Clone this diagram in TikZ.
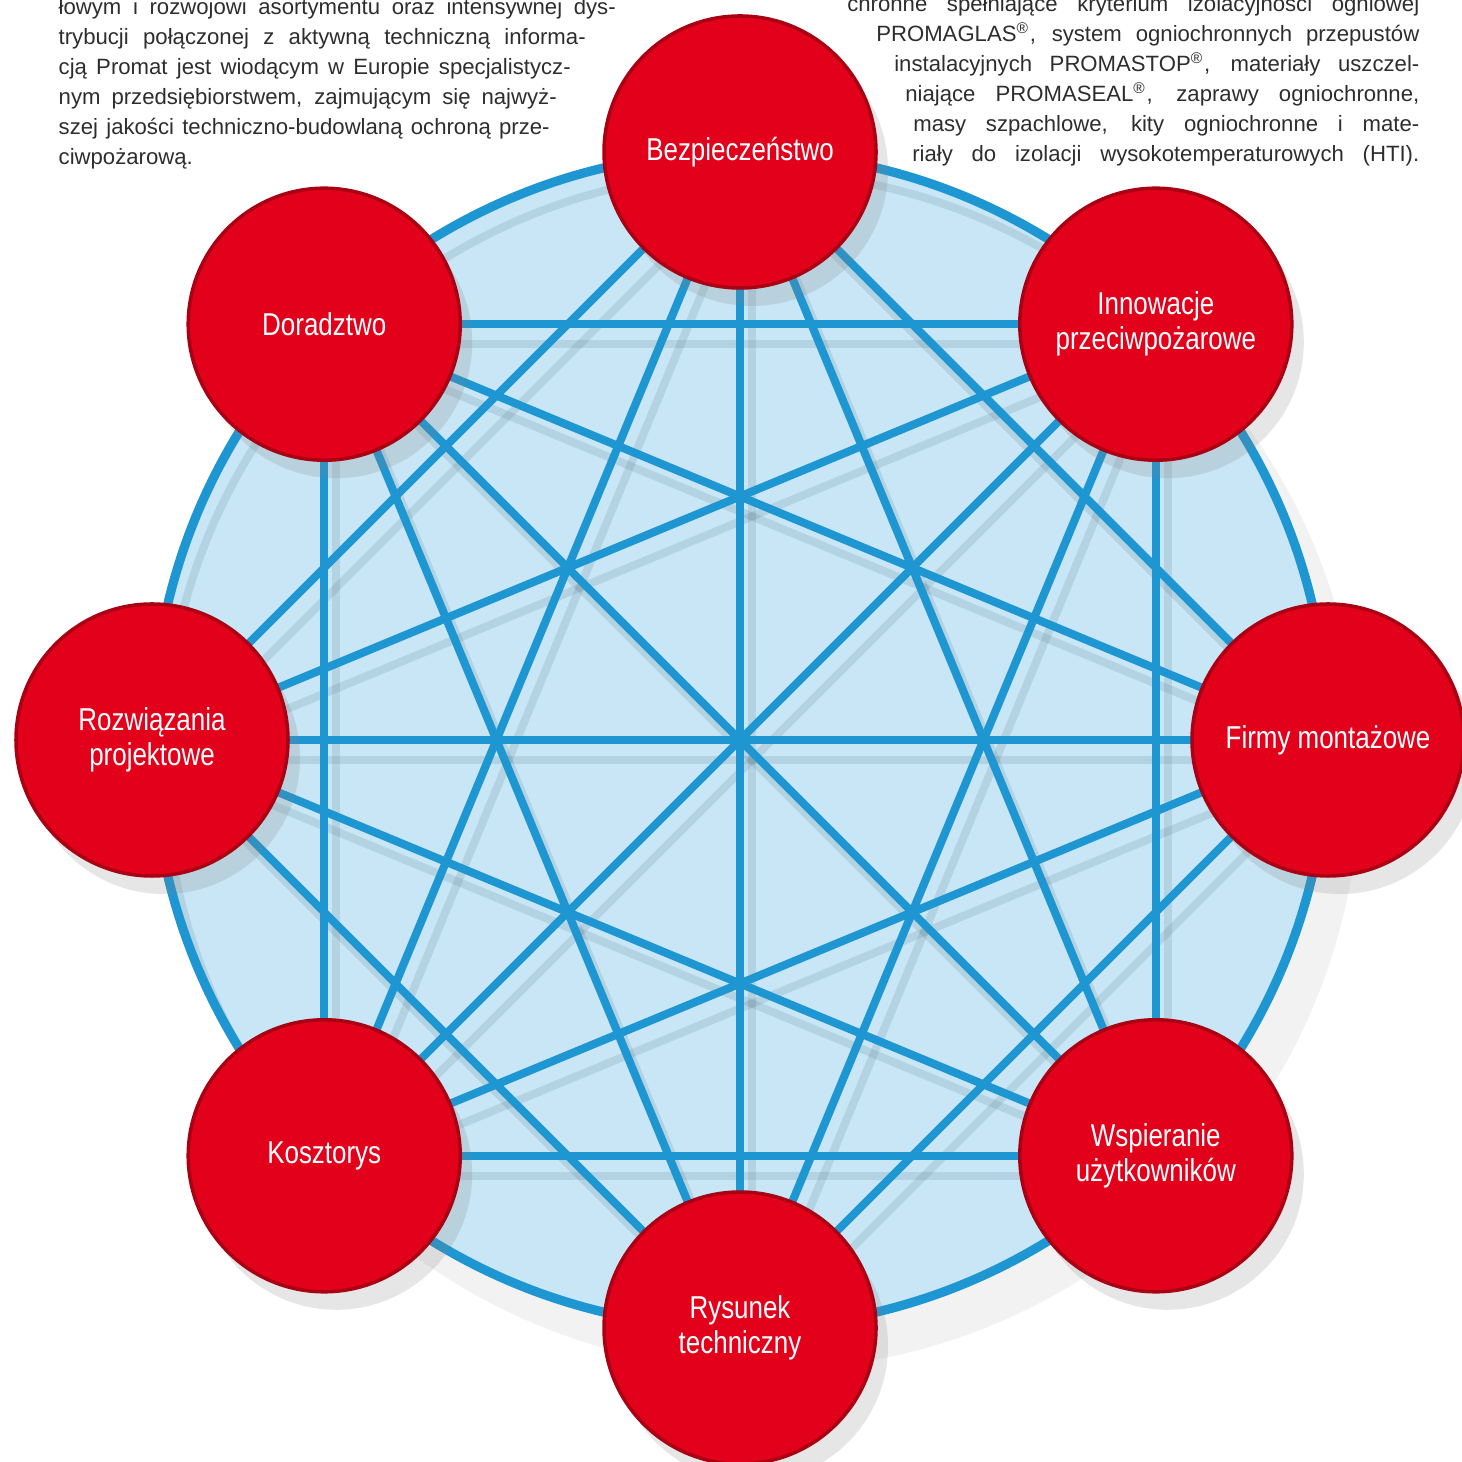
\documentclass[tikz,border=0pt]{standalone}
\usepackage{fontspec}
\usepackage{xcolor}
\usetikzlibrary{backgrounds,shadows}
\setmainfont{Liberation Sans}
\newfontfamily\condfont[FakeStretch=0.82]{Liberation Sans}
\newfontfamily\bodyfont{Liberation Sans}
\definecolor{PromRed}{RGB}{226,0,26}
\definecolor{PromBlue}{RGB}{30,150,210}
\definecolor{DiscBlue}{RGB}{200,230,245}
\definecolor{TextGray}{RGB}{45,45,45}
\newcommand{\jline}[2]{\hbox to #1{#2}}
\newcommand{\regmark}{\textsuperscript{\textregistered}}

\begin{document}
\begin{tikzpicture}[
      every node/.append style={font=\condfont\fontsize{9}{10}\selectfont, align=center},
      link/.style={draw=PromBlue, line width=2.3pt},
      lineshadow/.style={draw=black!70!PromBlue, line width=2.3pt, opacity=0.10}]
    \tikzstyle{topic} = [circle, fill=PromRed, draw=PromRed!75!black, line width=1pt,
      minimum size=2.72cm, inner sep=0pt, text=white,
      drop shadow={shadow xshift=0.12cm, shadow yshift=-0.18cm, opacity=0.2}]
    \tikzstyle{para} = [font=\bodyfont\fontsize{6.3}{8.5}\selectfont, text=TextGray, inner sep=0pt]
    \useasboundingbox (0,0) rectangle (14.62,14.61);
    \coordinate (mid) at (7.40,7.21);
    \node[topic] (safety)  at ([shift={(90:5.88)}]mid)   {Bezpieczeństwo};
    \node[topic] (innov)   at ([shift={(45:5.88)}]mid)   {Innowacje\\przeciwpożarowe};
    \node[topic] (firms)   at ([shift={(0:5.88)}]mid)    {Firmy montażowe};
    \node[topic] (support) at ([shift={(-45:5.88)}]mid)  {Wspieranie\\użytkowników};
    \node[topic] (drawing) at ([shift={(-90:5.88)}]mid)  {Rysunek\\techniczny};
    \node[topic] (costs)   at ([shift={(-135:5.88)}]mid) {Kosztorys};
    \node[topic] (design)  at ([shift={(180:5.88)}]mid)  {Rozwiązania\\projektowe};
    \node[topic] (advice)  at ([shift={(135:5.88)}]mid)  {Doradztwo};
    \begin{pgfonlayer}{background}
      \fill[black, opacity=0.05] ([shift={(0.25,-0.35)}]mid) circle (5.95);
      \fill[DiscBlue] (mid) circle (5.88);
      \begin{scope}
        \clip (mid) circle (5.84);
        \foreach \a/\b in {safety/firms, safety/support, safety/drawing, safety/costs, safety/design,
            innov/support, innov/drawing, innov/costs, innov/design, innov/advice,
            firms/drawing, firms/costs, firms/design, firms/advice,
            support/costs, support/design, support/advice,
            drawing/design, drawing/advice, costs/advice}
          \draw[lineshadow] ([shift={(0.12,-0.2)}]\a.center) -- ([shift={(0.12,-0.2)}]\b.center);
        \draw[lineshadow] ([shift={(0.12,-0.2)}]mid) circle (5.88);
      \end{scope}
      \foreach \a/\b in {safety/firms, safety/support, safety/drawing, safety/costs, safety/design,
          innov/support, innov/drawing, innov/costs, innov/design, innov/advice,
          firms/drawing, firms/costs, firms/design, firms/advice,
          support/costs, support/design, support/advice,
          drawing/design, drawing/advice, costs/advice}
        \draw[link] (\a.center) -- (\b.center);
      \draw[link, line width=2.6pt] (mid) circle (5.88);
    \end{pgfonlayer}
    \node[para, anchor=base west] (l1) at (0.58,14.46) {\jline{5.57cm}{łowym i rozwojowi asortymentu oraz intensywnej dys-}};
    \node[para, anchor=base west] (l2) at (0.58,14.16) {\jline{5.27cm}{trybucji połączonej z aktywną techniczną informa-}};
    \node[para, anchor=base west] (l3) at (0.58,13.86) {\jline{5.12cm}{cją Promat jest wiodącym w Europie specjalistycz-}};
    \node[para, anchor=base west] (l4) at (0.58,13.56) {\jline{4.98cm}{nym przedsiębiorstwem, zajmującym się najwyż-}};
    \node[para, anchor=base west] (l5) at (0.58,13.26) {\jline{4.91cm}{szej jakości techniczno-budowlaną ochroną prze-}};
    \node[para, anchor=base west] (l6) at (0.58,12.96) {ciwpożarową.};
    \node[para, anchor=base east] (r1) at (14.20,14.49) {\jline{5.72cm}{chronne spełniające kryterium izolacyjności ogniowej}};
    \node[para, anchor=base east] (r2) at (14.20,14.19) {\jline{5.43cm}{PROMAGLAS\regmark, system ogniochronnych przepustów}};
    \node[para, anchor=base east] (r3) at (14.20,13.89) {\jline{5.25cm}{instalacyjnych PROMASTOP\regmark, materiały uszczel-}};
    \node[para, anchor=base east] (r4) at (14.20,13.59) {\jline{5.14cm}{niające PROMASEAL\regmark, zaprawy ogniochronne,}};
    \node[para, anchor=base east] (r5) at (14.20,13.29) {\jline{5.06cm}{masy szpachlowe, kity ogniochronne i mate-}};
    \node[para, anchor=base east] (r6) at (14.20,12.99) {\jline{5.07cm}{riały do izolacji wysokotemperaturowych (HTI).}};
\end{tikzpicture}
\end{document}
